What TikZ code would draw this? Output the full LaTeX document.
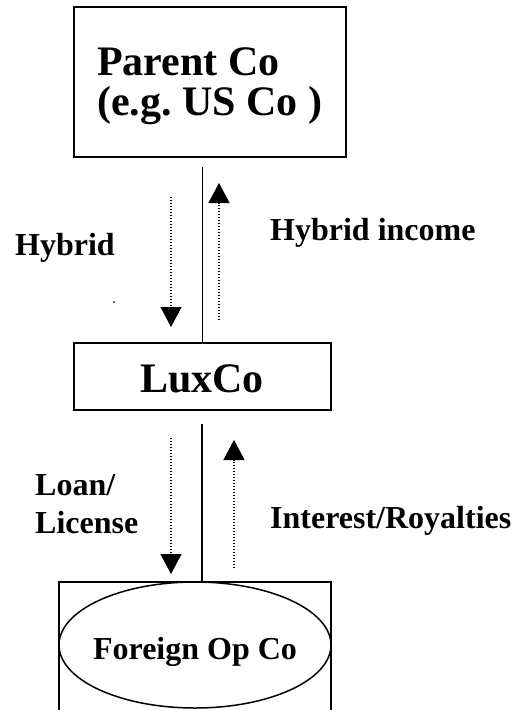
\documentclass[tikz,border=0pt]{standalone}
\usepackage{fontspec}
\setmainfont{Liberation Serif}
\usetikzlibrary{arrows.meta,shapes.geometric}
\frenchspacing
\begin{document}
\begin{tikzpicture}[x=1pt,y=-1pt,
  boxline/.style={draw,line width=1.8pt,inner sep=0pt},
  bigtext/.style={font=\fontsize{42}{40}\selectfont\bfseries,inner sep=0pt},
  lbltext/.style={font=\fontsize{32}{38}\selectfont\bfseries,inner sep=0pt,anchor=base west},
  link/.style={line width=1.7pt},
  flow/.style={line width=1.3pt,dash pattern=on 1.2pt off 1.8pt,
    -{Triangle[length=20pt,width=21pt]}}]
\useasboundingbox (0,0) rectangle (516,710);

% entities
\node[boxline,minimum width=272pt,minimum height=150pt] (parent) at (210,82) {};
\node[bigtext,anchor=base west] (parentA) at (97,75) {Parent Co};
\node[bigtext,anchor=base west] (parentB) at (97,115) {(e.g. US Co )};

\node[boxline,minimum width=257pt,minimum height=67pt] (lux) at (202.5,376.5) {};
\node[bigtext,anchor=base] (luxtxt) at (202,392) {LuxCo};

% operating company: open-bottomed frame with an oval inside
\coordinate (fbl) at (59,712);
\coordinate (ftl) at (59,582);
\coordinate (ftr) at (331,582);
\coordinate (fbr) at (331,712);
\coordinate (ftop) at (202,582);
\draw[line width=1.8pt] (fbl) -- (ftl) -- (ftr) -- (fbr);
\node[draw,ellipse,line width=1.5pt,minimum width=272pt,minimum height=126pt,inner sep=0pt] (foreign) at (195,645) {};
\node[font=\fontsize{32}{38}\selectfont\bfseries,inner sep=0pt,anchor=base] (foreigntxt) at (195,659) {Foreign Op Co};

% ownership lines
\draw[link] (lux.north |- parent.south) ++(0,9) -- (lux.north);
\draw[link] (ftop |- lux.south) ++(0,13) -- (ftop);

% flows between parent and LuxCo
\coordinate (hA) at (171,197);
\coordinate (hB) at (171,327);
\coordinate (hiA) at (219,320);
\coordinate (hiB) at (219,183);
\draw[flow] (hA) -- (hB);
\draw[flow] (hiA) -- (hiB);

% flows between LuxCo and the operating company
\coordinate (lA) at (171,438);
\coordinate (lB) at (171,574);
\coordinate (iA) at (234,568);
\coordinate (iB) at (234,440);
\draw[flow] (lA) -- (lB);
\draw[flow] (iA) -- (iB);

% labels
\node[lbltext] (hyb) at (15,255) {Hybrid};
\node[lbltext] (hybinc) at (270,240) {Hybrid income};
\node[lbltext] (loanA) at (35,495) {Loan/};
\node[lbltext] (loanB) at (35,533) {License};
\node[lbltext] (intr) at (270,528) {Interest/Royalties};
\fill (114,302) circle (1pt);
\end{tikzpicture}
\end{document}
